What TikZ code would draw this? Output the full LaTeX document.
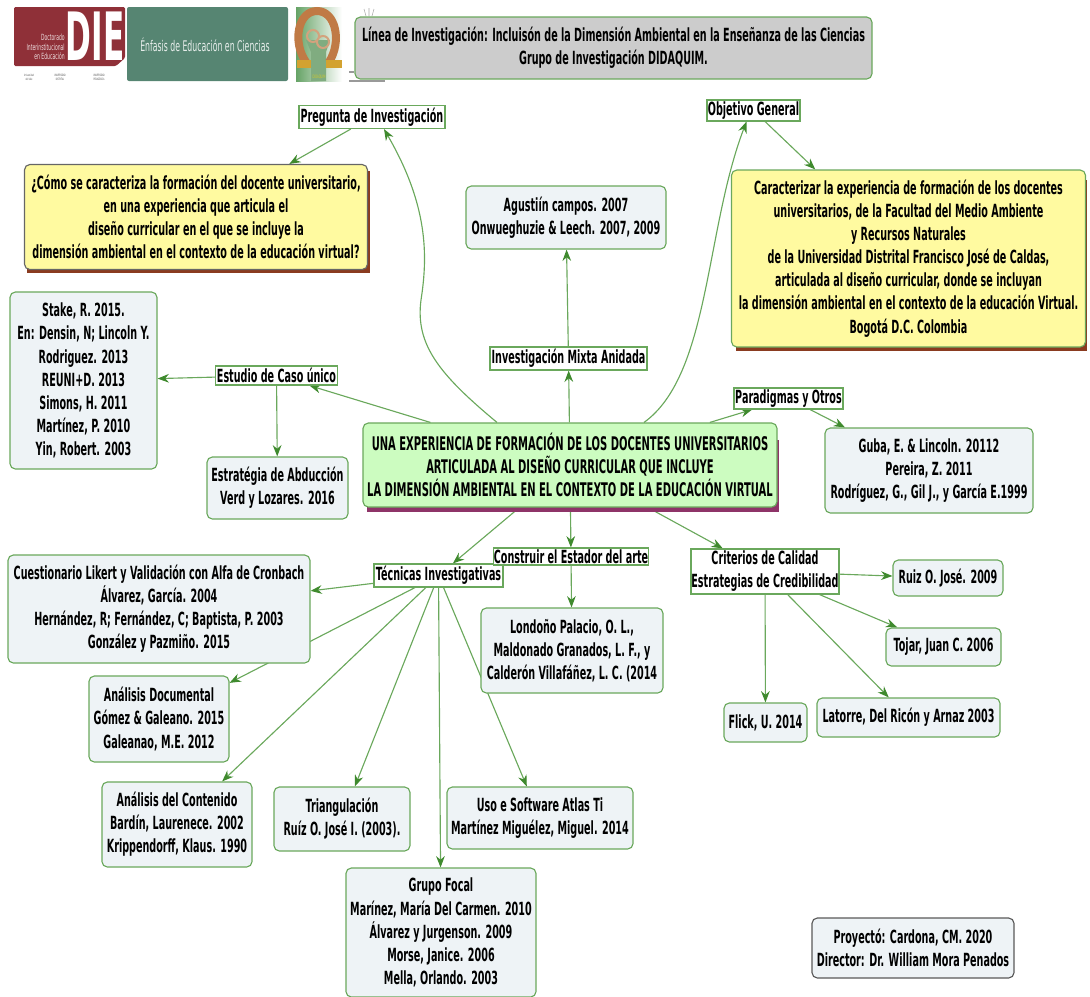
\documentclass[tikz,border=0pt]{standalone}
\usepackage{fontspec}
\setmainfont{DejaVu Sans}[FakeStretch=0.53]
\usetikzlibrary{arrows.meta, calc, backgrounds}

\definecolor{edgegreen}{HTML}{6AA85C}
\definecolor{tipgreen}{HTML}{3F8A2E}
\definecolor{refblue}{HTML}{EEF3F6}
\definecolor{goalyellow}{HTML}{FFFAA0}
\definecolor{goalshadow}{HTML}{8A3B20}
\definecolor{rootgreen}{HTML}{CCFCC0}
\definecolor{rootshadow}{HTML}{8E3468}
\definecolor{diered}{HTML}{8F3038}
\definecolor{enfasis}{HTML}{568572}
\definecolor{omegatan}{HTML}{C07A45}

\begin{document}
\begin{tikzpicture}[x=0.75pt, y=-0.75pt,
    boxsize/.style 2 args={minimum width=#1*0.75pt, minimum height=#2*0.75pt},
    basebox/.style={draw=edgegreen, line width=0.85pt, align=center, inner sep=0pt, text=black,
        font=\bfseries\fontsize{13.6}{17.3}\selectfont},
    refbox/.style={basebox, rounded corners=4pt, fill=refblue},
    labelbox/.style={basebox, fill=white},
    goalbox/.style={basebox, rounded corners=4pt, fill=goalyellow},
    unitext/.style={black!70, inner sep=0pt, align=center, font=\fontsize{2.3}{3}\selectfont},
    link/.style={-{Stealth[length=8.5pt, width=6.5pt, color=tipgreen]}, draw=edgegreen, line width=0.85pt},
    ]
    \useasboundingbox (0,0) rectangle (1090,997);

    % logos
    \fill[diered, rounded corners=1pt] (14,7) -- (125,7) -- (125,58) -- (116,66) -- (14,66) -- cycle;
    \node[white, inner sep=0pt, xscale=0.88, anchor=base, text height=36pt, text depth=0pt, font=\bfseries\fontsize{50}{50}\selectfont] (die) at (95,60) {DIE};
    \node[white!85!diered, inner sep=0pt, align=right, anchor=east, font=\fontsize{6.4}{7.2}\selectfont] (dietext) at (65,47) {Doctorado\\Interinstitucional\\en Educación};
    \node[unitext] (uni1) at (29,77) {Universidad\\del Valle};
    \node[unitext] (uni2) at (60,77) {UNIVERSIDAD\\DISTRITAL};
    \node[unitext] (uni3) at (99,77) {UNIVERSIDAD\\PEDAGÓGICA};
    \fill[enfasis, rounded corners=1.5pt] (127,7) rectangle (288,81);
    \node[white!85!enfasis, inner sep=0pt, font=\fontsize{11}{12}\selectfont] (enfasistext) at (205,45) {Énfasis de Educación en Ciencias};
    \shade[left color=green!40!black!60, right color=white] (296,7) rectangle (342,81);
    \fill[green!35!black!50] (311,81) -- (311,52) -- (306,40) -- (330,40) -- (326,52) -- (326,81) -- cycle;
    \draw[omegatan!70, line width=1.5pt] (313,36) circle (6) (323,42) circle (6);
    \draw[omegatan, line width=6pt] (306,62) .. controls (292,42) and (298,11) .. (317,11) .. controls (336,11) and (342,42) .. (329,62);
    \draw[omegatan!70!yellow, line width=6pt] (297,64) -- (311,64) (326,64) -- (342,64);
    \node[yellow!80!black, inner sep=0pt, font=\fontsize{3.5}{4}\selectfont] (omegatext) at (319,77) {DIDAQUIM};
    \draw[black!35, line width=0.4pt] (369,8) -- (369,16) (364,9) -- (366,16) (374,9) -- (372,16);
    \draw[black!40, line width=1pt] (349,72) -- (354,72) (349,81) -- (385,81);

    % boxes
    \node[basebox, fill=black!20, rounded corners=4pt, boxsize={517}{62}] (title) at (613.5,48) {Línea de Investigación: Incluisón de la Dimensión Ambiental en la Enseñanza de las Ciencias\\Grupo de Investigación DIDAQUIM.};

    \fill[goalshadow] (27,171) rectangle (370,273);
    \node[goalbox, draw=black!60, boxsize={343}{105}] (question) at (196,217) {¿Cómo se caracteriza la formación del docente universitario,\\en una experiencia que articula el\\diseño curricular en el que se incluye la\\dimensión ambiental en el contexto de la educación virtual?};
    \fill[goalshadow] (736,180) rectangle (1087,351);
    \node[goalbox, boxsize={354}{177}] (goal) at (908.5,258.5) {Caracterizar la experiencia de formación de los docentes\\universitarios, de la Facultad del Medio Ambiente\\y Recursos Naturales\\de la Universidad Distrital Francisco José de Caldas,\\articulada al diseño curricular, donde se incluyan\\la dimensión ambiental en el contexto de la educación Virtual.\\Bogotá D.C. Colombia};
    \fill[rootshadow] (367,440) rectangle (779,512);
    \node[basebox, rounded corners=4pt, fill=rootgreen, boxsize={414}{84}, font=\bfseries\fontsize{14.1}{17.3}\selectfont] (root) at (570,465) {UNA EXPERIENCIA DE FORMACIÓN DE LOS DOCENTES UNIVERSITARIOS\\ARTICULADA AL DISEÑO CURRICULAR QUE INCLUYE\\LA DIMENSIÓN AMBIENTAL EN EL CONTEXTO DE LA EDUCACIÓN VIRTUAL};

    \node[labelbox, boxsize={146}{23}] (pregunta) at (372,117) {Pregunta de Investigación};
    \node[labelbox, boxsize={93}{21}] (objetivo) at (753.5,110.5) {Objetivo General};
    \node[labelbox, boxsize={157}{23}] (mixta) at (568.5,358.5) {Investigación Mixta Anidada};
    \node[labelbox, boxsize={122}{19}] (caso) at (276.5,375.5) {Estudio de Caso único};
    \node[labelbox, boxsize={109}{21}] (paradigmas) at (788.5,398.5) {Paradigmas y Otros};
    \node[labelbox, boxsize={129}{23}] (tecnicas) at (438.5,575.5) {Técnicas Investigativas};
    \node[labelbox, boxsize={155}{17}] (estado) at (571,556.5) {Construir el Estador del arte};
    \node[labelbox, boxsize={148}{45}] (criterios) at (765,571.5) {Criterios de Calidad\\Estrategias de Credibilidad};

    \node[refbox, boxsize={200}{63}] (agustin) at (566,217.5) {Agustiín campos. 2007\\Onwueghuzie \& Leech. 2007, 2009};
    \node[refbox, boxsize={147}{177}] (stake) at (83.5,380.5) {Stake, R. 2015.\\En: Densin, N; Lincoln Y.\\Rodriguez. 2013\\REUNI+D. 2013\\Simons, H. 2011\\Martínez, P. 2010\\Yin, Robert. 2003};
    \node[refbox, boxsize={141}{62}] (abduccion) at (277.5,488) {Estratégia de Abducción\\Verd y Lozares. 2016};
    \node[refbox, boxsize={208}{85}] (guba) at (929,470.5) {Guba, E. \& Lincoln. 20112\\Pereira, Z. 2011\\Rodríguez, G., Gil J., y García E.1999};
    \node[refbox, boxsize={302}{108}] (likert) at (159,609) {Cuestionario Likert y Validación con Alfa de Cronbach\\Álvarez, García. 2004\\Hernández, R; Fernández, C; Baptista, P. 2003\\González y Pazmiño. 2015};
    \node[refbox, boxsize={182}{85}] (londono) at (572,650.5) {Londoño Palacio, O. L.,\\Maldonado Granados, L. F., y\\Calderón Villafáñez, L. C. (2014};
    \node[refbox, boxsize={110}{36}] (ruiz) at (948,578) {Ruiz O. José. 2009};
    \node[refbox, boxsize={115}{38}] (tojar) at (943.5,647) {Tojar, Juan C. 2006};
    \node[refbox, boxsize={183}{39}] (latorre) at (908.5,717.5) {Latorre, Del Ricón y Arnaz 2003};
    \node[refbox, boxsize={83}{39}] (flick) at (765.5,722.5) {Flick, U. 2014};
    \node[refbox, boxsize={140}{86}] (documental) at (159,719) {Análisis Documental\\Gómez \& Galeano. 2015\\Galeanao, M.E. 2012};
    \node[refbox, boxsize={150}{85}] (contenido) at (177,824.5) {Análisis del Contenido\\Bardín, Laurenece. 2002\\Krippendorff, Klaus. 1990};
    \node[refbox, boxsize={136}{64}] (triangulacion) at (342,819) {Triangulación\\Ruíz O. José I. (2003).};
    \node[refbox, boxsize={186}{62}] (atlas) at (540,818) {Uso e Software Atlas Ti\\Martínez Miguélez, Miguel. 2014};
    \node[refbox, boxsize={190}{129}] (focal) at (441,932.5) {Grupo Focal\\Marínez, María Del Carmen. 2010\\Álvarez y Jurgenson. 2009\\Morse, Janice. 2006\\Mella, Orlando. 2003};
    \node[refbox, draw=black!65, boxsize={202}{60}] (credits) at (913,948) {Proyectó: Cardona, CM. 2020\\Director: Dr. William Mora Penados};

    \begin{scope}[on background layer]
        \path[link] (root) edge (caso);
        \path[link] (root) edge (mixta);
        \path[link] (root) edge (paradigmas);
        \path[link] (root) edge (tecnicas);
        \path[link] (root) edge (estado);
        \path[link] (root) edge (criterios);
        \path[link] (pregunta) edge (question);
        \path[link] (objetivo) edge (goal);
        \path[link] (mixta) edge (agustin);
        \path[link] (caso) edge (stake);
        \path[link] (caso) edge (abduccion);
        \path[link] (paradigmas) edge (guba);
        \path[link] (estado) edge (londono);
        \path[link] (criterios) edge (ruiz);
        \path[link] (criterios) edge (tojar);
        \path[link] (criterios) edge (latorre);
        \path[link] (criterios) edge (flick);
        \path[link] (tecnicas) edge (likert);
        \path[link] (tecnicas) edge (documental);
        \path[link] (tecnicas) edge (contenido);
        \path[link] (tecnicas) edge (triangulacion);
        \path[link] (tecnicas) edge (focal);
        \path[link] (tecnicas) edge (atlas);
        \draw[link] ($(root.north)+(-73,0)$) .. controls (440,375) and (415,345) .. (421,300) .. controls (428,255) and (428,205) .. ($(pregunta.south)+(12,0)$);
        \draw[link] ($(root.north)+(74,0)$) .. controls (710,375) and (705,230) .. ($(objetivo.south)+(-7,0)$);
    \end{scope}
\end{tikzpicture}
\end{document}
